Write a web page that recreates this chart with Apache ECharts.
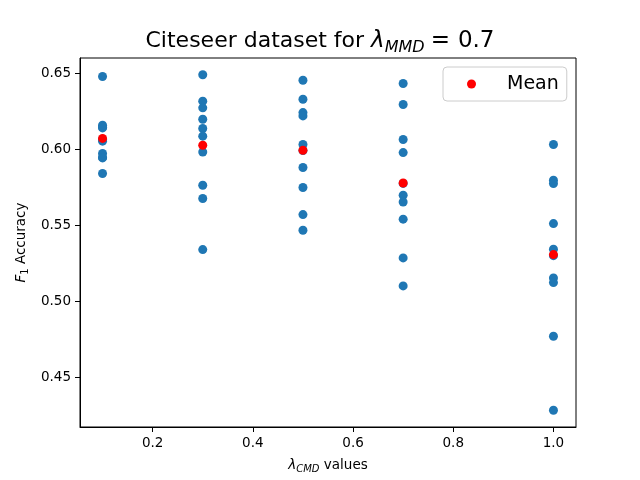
<!DOCTYPE html>
<html>
<head>
<meta charset="utf-8">
<script src="https://cdn.jsdelivr.net/npm/echarts@6/dist/echarts.min.js"></script>
<style>
  html, body { margin: 0; padding: 0; background: #fff; }
  #main { width: 640px; height: 480px; }
</style>
</head>
<body>
<div id="main"></div>
<script>
// lambda_CMD values on the x axis
var lambdas = [0.1, 0.3, 0.5, 0.7, 1.0];

// F1 accuracy of every run, one list per lambda
var f1_01 = [0.6478, 0.6158, 0.6140, 0.6145, 0.6065, 0.6053, 0.5972, 0.5943, 0.5840, 0.5946];
var f1_03 = [0.6490, 0.6316, 0.6272, 0.6197, 0.6136, 0.6086, 0.5982, 0.5763, 0.5676, 0.5340];
var f1_05 = [0.6454, 0.6329, 0.6241, 0.6219, 0.6031, 0.5991, 0.5880, 0.5748, 0.5570, 0.5467];
var f1_07 = [0.6432, 0.6294, 0.6064, 0.5978, 0.5775, 0.5697, 0.5653, 0.5540, 0.5285, 0.5101];
var f1_10 = [0.6031, 0.5796, 0.5774, 0.5511, 0.5342, 0.5300, 0.5153, 0.5123, 0.4770, 0.4283];

// mean per lambda
var means = [0.6071, 0.6026, 0.5993, 0.5778, 0.5307];

var xTicks = [0.2, 0.4, 0.6, 0.8, 1.0];
var yTicks = [0.45, 0.50, 0.55, 0.60, 0.65];

var runs = [f1_01, f1_03, f1_05, f1_07, f1_10];
var runPoints = [];
for (var i = 0; i < lambdas.length; i++) {
    for (var j = 0; j < runs[i].length; j++) {
        runPoints.push([lambdas[i], runs[i][j]]);
    }
}
var meanPoints = [];
for (var k = 0; k < lambdas.length; k++) {
    meanPoints.push([lambdas[k], means[k]]);
}

var font = 'DejaVu Sans';
var myChart = echarts.init(document.getElementById('main'));

var option = {
    animation: false,
    backgroundColor: '#fff',
    textStyle: { fontFamily: font },
    title: {
        left: 'center',
        top: 26,
        padding: 0,
        text: '{a|Citeseer dataset for }{l|λ}{s|MMD}{e|=}{b|0.7}',
        textStyle: {
            fontWeight: 'normal',
            rich: {
                a: { fontFamily: font, fontSize: 22, lineHeight: 30, fontWeight: 'normal', color: '#000' },
                b: { fontFamily: font, fontSize: 23, lineHeight: 30, fontWeight: 'normal', color: '#000' },
                e: { fontFamily: font, fontSize: 23, lineHeight: 30, fontWeight: 'normal', color: '#000', padding: [0, 8, 0, 6] },
                l: { fontFamily: font, fontSize: 23, lineHeight: 30, fontWeight: 'normal', fontStyle: 'italic', color: '#000' },
                s: { fontFamily: font, fontSize: 16, lineHeight: 15, fontWeight: 'normal', fontStyle: 'italic', color: '#000', verticalAlign: 'bottom' }
            }
        }
    },
    legend: {
        data: ['Mean'],
        left: 443,
        top: 67,
        orient: 'vertical',
        padding: [6, 8, 6, 24],
        itemWidth: 9,
        itemHeight: 9,
        backgroundColor: 'rgba(255,255,255,0.8)',
        borderColor: '#cccccc',
        borderWidth: 1,
        borderRadius: 4,
        textStyle: {
            fontFamily: font,
            fontSize: 19,
            color: '#000',
            padding: [0, 0, 0, 26],
            lineHeight: 22
        }
    },
    grid: {
        left: 80,
        right: 64,
        top: 58,
        bottom: 53,
        outerBoundsMode: 'none',
        show: true,
        borderColor: '#000',
        borderWidth: 1,
        backgroundColor: 'transparent'
    },
    xAxis: {
        type: 'value',
        min: 0.055,
        max: 1.045,
        name: '{l|λ}{s|CMD}{a| values}',
        nameLocation: 'middle',
        nameGap: 29,
        nameTextStyle: {
            rich: {
                a: { fontFamily: font, fontSize: 13.5, lineHeight: 18, color: '#000' },
                l: { fontFamily: font, fontSize: 13.5, lineHeight: 18, fontStyle: 'italic', color: '#000' },
                s: { fontFamily: font, fontSize: 10, lineHeight: 10, fontStyle: 'italic', color: '#000', verticalAlign: 'bottom' }
            }
        },
        axisLine: { lineStyle: { color: '#000', width: 1 } },
        axisTick: { show: true, length: 5, lineStyle: { color: '#000' }, customValues: xTicks },
        axisLabel: {
            customValues: xTicks,
            margin: 9,
            fontFamily: font,
            fontSize: 13.5,
            color: '#000',
            formatter: function (v) { return v.toFixed(1); }
        },
        splitLine: { show: false }
    },
    yAxis: {
        type: 'value',
        min: 0.4173,
        max: 0.660,
        name: '{i|F}{s|1}{a| Accuracy}',
        nameLocation: 'middle',
        nameGap: 44,
        nameTextStyle: {
            rich: {
                a: { fontFamily: font, fontSize: 13.5, lineHeight: 18, color: '#000' },
                i: { fontFamily: font, fontSize: 13.5, lineHeight: 18, fontStyle: 'italic', color: '#000' },
                s: { fontFamily: font, fontSize: 10, lineHeight: 10, color: '#000', verticalAlign: 'bottom' }
            }
        },
        axisLine: { show: true, lineStyle: { color: '#000', width: 1 } },
        axisTick: { show: true, length: 5, lineStyle: { color: '#000' }, customValues: yTicks },
        axisLabel: {
            customValues: yTicks,
            margin: 9,
            fontFamily: font,
            fontSize: 13.5,
            color: '#000',
            formatter: function (v) { return v.toFixed(2); }
        },
        splitLine: { show: false }
    },
    series: [
        {
            name: 'Runs',
            type: 'scatter',
            symbol: 'circle',
            symbolSize: 9,
            itemStyle: { color: '#1f77b4', opacity: 1 },
            data: runPoints,
            z: 2
        },
        {
            name: 'Mean',
            type: 'scatter',
            symbol: 'circle',
            symbolSize: 9,
            itemStyle: { color: '#ff0000', opacity: 1 },
            data: meanPoints,
            z: 3
        }
    ]
};

option && myChart.setOption(option);
</script>
</body>
</html>
